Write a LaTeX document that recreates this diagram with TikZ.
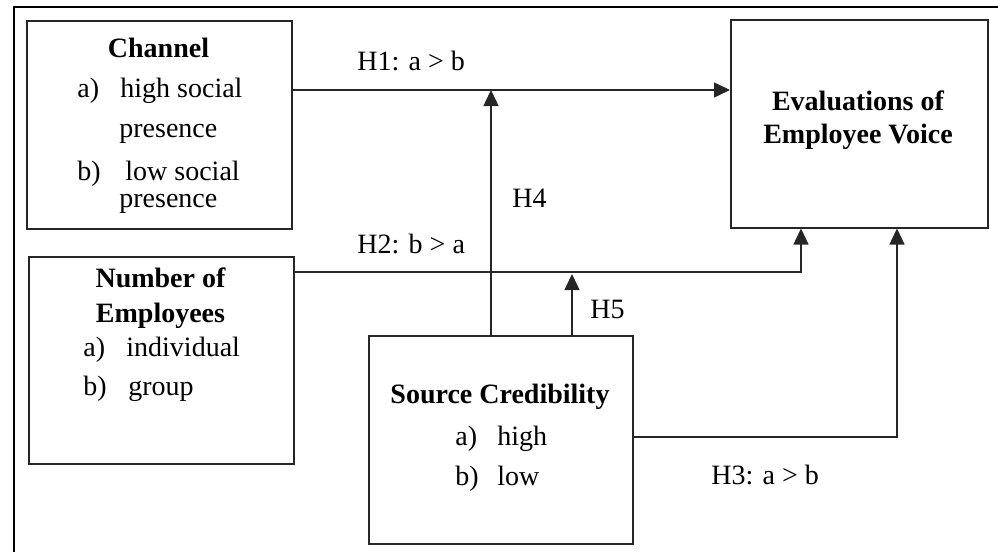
\documentclass[tikz,border=0pt]{standalone}
\usepackage{fontspec}
\setmainfont{Liberation Serif}
\usetikzlibrary{arrows.meta}

\begin{document}
\begin{tikzpicture}[
    x=0.5pt, y=-0.5pt,
    font=\fontsize{14}{17}\selectfont,
    box/.style={draw=black!85, line width=0.75pt, rectangle, inner sep=0pt,
                anchor=north west},
    txt/.style={inner sep=0pt, anchor=base west},
    head/.style={inner sep=0pt, anchor=base, font=\fontsize{14}{17}\selectfont\bfseries},
    link/.style={draw=black!85, line width=0.75pt,
                 -{Triangle[width=7.5pt, length=8pt]}},
    frame/.style={draw=black, line width=1pt}
  ]
  \useasboundingbox (0,0) rectangle (998,552);

  % outer frame (open on the right and at the bottom)
  \draw[frame] (14,552) -- (14,7) -- (998,7);

  % boxes
  \node[box, minimum width=132.5pt, minimum height=104pt] (ch) at (26,20) {};
  \node[box, minimum width=132.5pt, minimum height=103.5pt] (ne) at (28,256) {};
  \node[box, minimum width=132pt, minimum height=104pt] (sc) at (368,335) {};
  \node[box, minimum width=128.5pt, minimum height=104pt] (ev) at (730,19) {};

  % Channel
  \node[head] (chh) at (158.5,57) {Channel};
  \node[txt] (cha) at (77,97) {a)};
  \node[txt] (chat) at (120,97) {high social};
  \node[txt] (chap) at (119,137) {presence};
  \node[txt] (chb) at (77,180) {b)};
  \node[txt] (chbt) at (125,180) {low social};
  \node[txt] (chbp) at (119,207) {presence};

  % Number of Employees
  \node[head] (neh1) at (160.5,287) {Number of};
  \node[head] (neh2) at (160.5,322) {Employees};
  \node[txt] (nea) at (83,356) {a)};
  \node[txt] (neat) at (126,356) {individual};
  \node[txt] (neb) at (83,395) {b)};
  \node[txt] (nebt) at (128,395) {group};

  % Source Credibility
  \node[head] (sch) at (500,403) {Source Credibility};
  \node[txt] (sca) at (455,445) {a)};
  \node[txt] (scat) at (497,445) {high};
  \node[txt] (scb) at (455,485) {b)};
  \node[txt] (scbt) at (497,485) {low};

  % Evaluations of Employee Voice
  \node[head] (evh1) at (858,110) {Evaluations of};
  \node[head] (evh2) at (858,143) {Employee Voice};

  % connectors
  \draw[link] ([yshift=-35pt]ch.north east) coordinate (h1s) -- (h1s -| ev.west);
  \draw[link] ([xshift=61.5pt]sc.north west) coordinate (h4s) -- (h4s |- h1s);
  \draw[link] ([yshift=-8pt]ne.north east) coordinate (h2s) -| ([xshift=35.5pt]ev.south west);
  \draw[link] ([xshift=102pt]sc.north west) coordinate (h5s) -- ([yshift=-1pt]h5s |- h2s);
  \draw[link] ([yshift=-51pt]sc.north east) -| ([xshift=83.5pt]ev.south west);

  % hypothesis labels
  \node[txt] (lh1) at (357,70) {H1: a > b};
  \node[txt] (lh2) at (357,253) {H2: b > a};
  \node[txt] (lh4) at (512,207) {H4};
  \node[txt] (lh5) at (590,318) {H5};
  \node[txt] (lh3) at (711,484) {H3: a > b};
\end{tikzpicture}
\end{document}
